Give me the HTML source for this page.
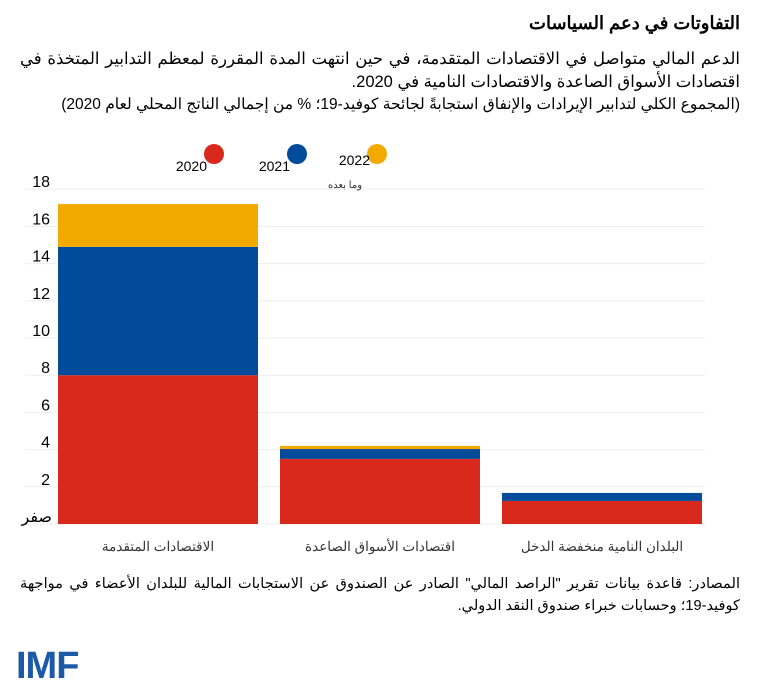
<!DOCTYPE html>
<html lang="ar"><head><meta charset="utf-8">
<style>
body{margin:0;width:758px;height:696px;background:#fff;font-family:"Liberation Sans","Noto Sans CJK SC",sans-serif;color:#000;position:relative;overflow:hidden}
.t{position:absolute;right:18px;direction:rtl;text-align:right;white-space:nowrap}
.j{text-align:justify;text-align-last:right}
</style></head><body>
<div class="t" style="top:13px;font-size:18px;font-weight:bold">التفاوتات في دعم السياسات</div>
<div class="t j" style="top:48px;font-size:16.5px;line-height:23px;white-space:normal;width:720px">الدعم المالي متواصل في الاقتصادات المتقدمة، في حين انتهت المدة المقررة لمعظم التدابير المتخذة في اقتصادات الأسواق الصاعدة والاقتصادات النامية في 2020.</div>
<div class="t" style="top:95px;font-size:15.5px">(المجموع الكلي لتدابير الإيرادات والإنفاق استجابةً لجائحة كوفيد-19؛ % من إجمالي الناتج المحلي لعام 2020)</div>
<svg id="chart" width="758" height="696" style="position:absolute;left:0;top:0"></svg>
<div class="t j" style="top:573px;font-size:14.6px;line-height:22px;white-space:normal;width:720px">المصادر: قاعدة بيانات تقرير "الراصد المالي" الصادر عن الصندوق عن الاستجابات المالية للبلدان الأعضاء في مواجهة كوفيد-19؛ وحسابات خبراء صندوق النقد الدولي.</div>
<div style="position:absolute;left:16px;top:646px;font-size:38px;font-weight:bold;color:#1c5aa8;letter-spacing:-1px;line-height:40px">IMF</div>
<script>
const categories=["الاقتصادات المتقدمة","اقتصادات الأسواق الصاعدة","البلدان النامية منخفضة الدخل"];
const s2020=[8.0,3.5,1.24];
const s2021=[6.9,0.53,0.43];
const s2022=[2.3,0.17,0.0];
const yTicks=[0,2,4,6,8,10,12,14,16,18];
const yTickLabels=["صفر","2","4","6","8","10","12","14","16","18"];
const seriesNames=["2020","2021","2022"];
const colors=["#d9291c","#024b9a","#f2a900"];
const NS="http://www.w3.org/2000/svg";
const svg=document.getElementById('chart');
const y0=524,pxPer=18.6;
function y(v){return y0-v*pxPer;}
function x(i){return 58+i*222;}
const bw=200;
function mk(tag,a){const e=document.createElementNS(NS,tag);for(const k in a)e.setAttribute(k,a[k]);svg.appendChild(e);return e;}
yTicks.forEach((t,i)=>{
  const g=mk('line',{x1:25,x2:705,y1:y(t),y2:y(t),stroke:'#eeeeee','stroke-width':1});
  
  
  const tx=mk('text',{x:i==0?52:50,y:y(t)-2,'text-anchor':'end','font-size':16,'font-family':'Liberation Sans, Noto Sans CJK SC, sans-serif'});
  tx.textContent=yTickLabels[i];
  
  
});
const series=[s2020,s2021,s2022];
categories.forEach((c,i)=>{
  let base=0;
  series.forEach((s,j)=>{
    const v=s[i];
    if(v>0){
      const r=mk('rect',{x:x(i),y:y(base+v),width:bw,height:v*pxPer,fill:colors[j]});
      
      
    }
    base+=v;
  });
  const l=mk('text',{x:x(i)+bw/2,y:551,'text-anchor':'middle','font-size':13.5,fill:'#333','font-family':'Liberation Sans, Noto Sans CJK SC, sans-serif',direction:'rtl'});
  l.textContent=c;
  
  
});
const legX=[214,297,377];
seriesNames.forEach((n,j)=>{
  const c=mk('circle',{cx:legX[j],cy:154,r:10,fill:colors[j]});
  
  
  const t=mk('text',{x:legX[j]-7,y:j==2?165:171,'text-anchor':'end','font-size':14,'font-family':'Liberation Sans, sans-serif'});
  t.textContent=n;
  
  
});
const t2=mk('text',{x:345,y:188,'text-anchor':'middle','font-size':10,fill:'#333',direction:'rtl','font-family':'Liberation Sans, sans-serif'});
t2.textContent="وما بعده";


</script>
</body></html>
